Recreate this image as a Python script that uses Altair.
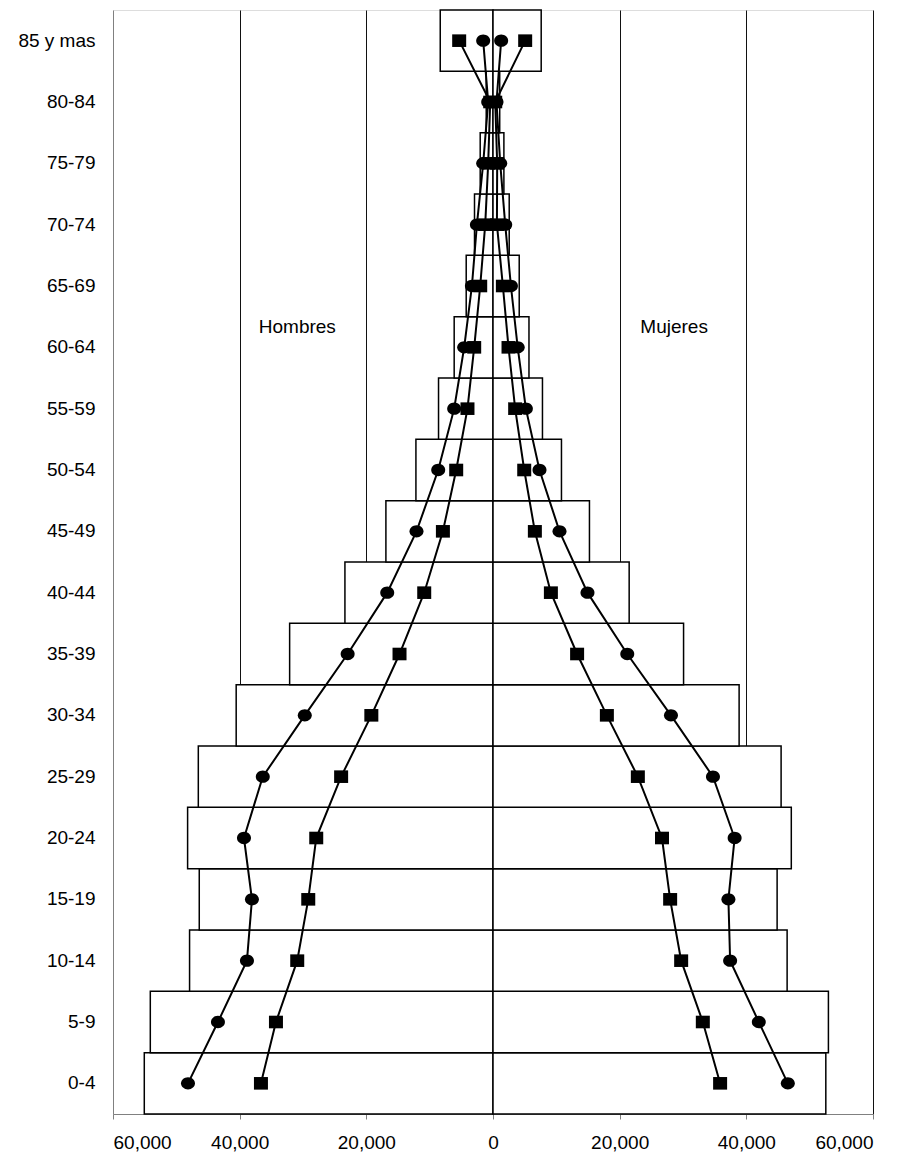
import altair as alt
import pandas as pd

ages = ["0-4", "5-9", "10-14", "15-19", "20-24", "25-29", "30-34", "35-39", "40-44",
        "45-49", "50-54", "55-59", "60-64", "65-69", "70-74", "75-79", "80-84", "85 y mas"]

# bar totals (absolute values)
men_bar = [55060, 54110, 47910, 46380, 48220, 46530, 40550, 32110, 23380,
           16910, 12170, 8600, 6130, 4230, 2920, 2020, 1070, 8330]
women_bar = [52550, 52960, 46440, 44860, 47100, 45490, 38860, 30090, 21500,
             15230, 10810, 7810, 5680, 4140, 2560, 1720, 1060, 7610]

# line series (absolute values)
men_circle = [48160, 43430, 38850, 38060, 39320, 36350, 29720, 22950, 16700,
              12080, 8650, 6130, 4550, 3330, 2540, 1550, 760, 1550]
men_square = [36640, 34270, 30910, 29170, 27910, 23980, 19210, 14760, 10860,
              7910, 5810, 4030, 2970, 2020, 1230, 760, 440, 5340]
women_square = [35860, 33130, 29710, 27970, 26680, 22870, 17980, 13280, 9140,
                6610, 4930, 3500, 2450, 1560, 620, 660, 350, 5080]
women_circle = [46550, 41970, 37440, 37170, 38150, 34730, 28100, 21200, 14920,
                10500, 7340, 5190, 3900, 2830, 1930, 1140, 550, 1290]

labels = ["Hombres", "Mujeres"]
label_x = [-30900, 28600]
label_age = ["60-64", "60-64"]

x_ticks = [-60000, -40000, -20000, 0, 20000, 40000, 60000]

FONT = "Liberation Sans"

bars = []
for i, a in enumerate(ages):
    bars.append({"age": a, "x": -men_bar[i], "x2": 0})
    bars.append({"age": a, "x": 0, "x2": women_bar[i]})
bars_df = pd.DataFrame(bars)

rows = []
for name, vals, sign, mt in [("mc", men_circle, -1, "circle"), ("ms", men_square, -1, "square"),
                             ("ws", women_square, 1, "square"), ("wc", women_circle, 1, "circle")]:
    for i, a in enumerate(ages):
        rows.append({"series": name, "age": a, "idx": i, "value": sign * vals[i], "mtype": mt})
lines_df = pd.DataFrame(rows)

text_df = pd.DataFrame({"label": labels, "x": label_x, "age": label_age})

top_down = ages[::-1]

x_scale = alt.Scale(domain=[-60000, 60000], nice=False, zero=False)
y_scale = alt.Scale(domain=top_down, paddingInner=0, paddingOuter=0)

x_axis = alt.Axis(
    values=x_ticks,
    labelExpr="format(abs(datum.value), ',')",
    title=None,
    grid=True,
    gridColor="#111111",
    gridWidth=1,
    gridOpacity=alt.condition("datum.value === -60000 || datum.value === 0", alt.value(0), alt.value(1)),
    domainColor="#808080",
    domainWidth=1,
    tickColor="#808080",
    tickSize=5,
    labelPadding=14,
    labelFont=FONT,
    labelFontSize=19,
    labelColor="#000000",
)
y_axis = alt.Axis(
    title=None,
    ticks=False,
    grid=False,
    domainColor="#808080",
    domainWidth=1,
    labelPadding=18,
    labelFont=FONT,
    labelFontSize=19,
    labelColor="#000000",
    minExtent=105,
    maxExtent=105,
)

bar_layer = alt.Chart(bars_df).mark_bar(
    fill="white", stroke="black", strokeWidth=1.5
).encode(
    x=alt.X("x:Q", scale=x_scale, axis=x_axis),
    x2="x2:Q",
    y=alt.Y("age:N", scale=y_scale, sort=top_down, axis=y_axis),
)

line_layer = alt.Chart(lines_df).mark_line(color="black", strokeWidth=2).encode(
    x=alt.X("value:Q", scale=x_scale),
    y=alt.Y("age:N", scale=y_scale, sort=top_down),
    detail="series:N",
    order="idx:Q",
)

ellipse = "M-1,0A1,0.88,0,1,1,1,0A1,0.88,0,1,1,-1,0Z"
rect = "M-1,-0.9L1,-0.9L1,0.9L-1,0.9Z"

point_layer = alt.Chart(lines_df).mark_point(
    filled=True, color="black", opacity=1, size=196, strokeWidth=0
).encode(
    x=alt.X("value:Q", scale=x_scale),
    y=alt.Y("age:N", scale=y_scale, sort=top_down),
    shape=alt.Shape("mtype:N", scale=alt.Scale(domain=["circle", "square"], range=[ellipse, rect]), legend=None),
)

text_layer = alt.Chart(text_df).mark_text(
    font=FONT, fontSize=19, color="black", dy=-20, align="center", baseline="middle"
).encode(
    x=alt.X("x:Q", scale=x_scale),
    y=alt.Y("age:N", scale=y_scale, sort=top_down),
    text="label:N",
)

chart = alt.layer(bar_layer, line_layer, point_layer, text_layer).properties(
    width=760, height=1104,
    padding={"left": 0, "top": 1, "right": 0, "bottom": 0},
).configure_view(stroke=None).configure(background="white")

chart.save("out.html", embed_options={"renderer": "svg", "actions": False})
